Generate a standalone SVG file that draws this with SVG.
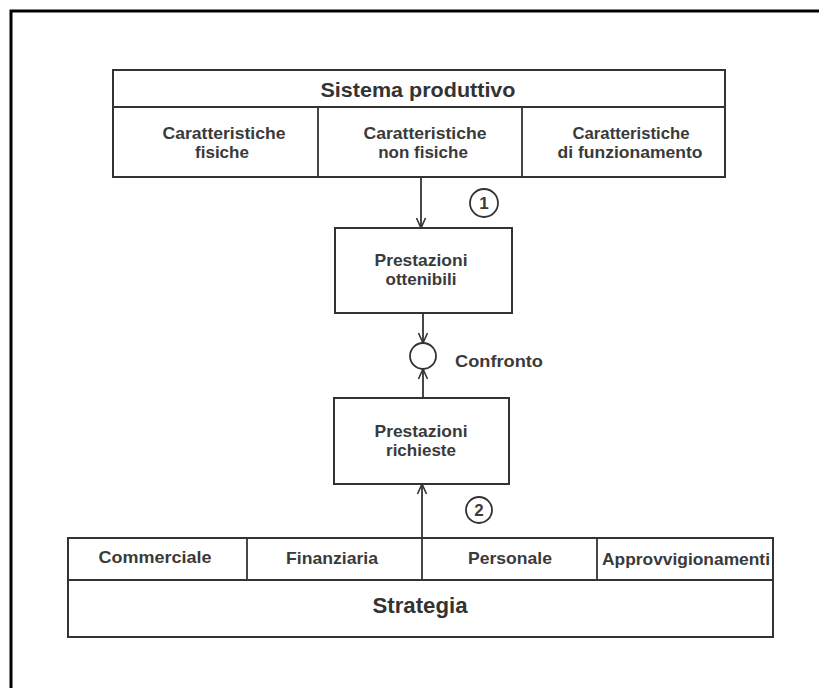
<svg xmlns="http://www.w3.org/2000/svg" width="819" height="688" viewBox="0 0 819 688">
  <defs>
    <marker id="arrow" viewBox="0 0 12 12" refX="11" refY="6" markerWidth="12" markerHeight="12" markerUnits="userSpaceOnUse" orient="auto">
      <path d="M1,1.5 L11,6 L1,10.5" fill="none" stroke="#333" stroke-width="1.6"/>
    </marker>
  </defs>
  <style>
    .box { fill: #fff; stroke: #333; stroke-width: 2; }
    .div { stroke: #333; stroke-width: 1.8; fill: none; }
    .conn { stroke: #333; stroke-width: 1.8; fill: none; marker-end: url(#arrow); }
    .txt { font-family: "Liberation Sans", Arial, sans-serif; font-weight: bold; fill: #3a3a3a; text-anchor: middle; }
    .sm { font-size: 17px; }
    .lg { font-size: 20.5px; fill: #333; }
    .xl { font-size: 22px; fill: #333; }
    .ring { fill: #fff; stroke: #333; stroke-width: 1.8; }
  </style>
  <rect width="819" height="688" fill="#fff"/>
  <!-- page frame -->
  <path d="M11,690 L11,11 L822,11" fill="none" stroke="#000" stroke-width="3"/>

  <g id="sistema-produttivo">
    <rect class="box" x="113" y="70" width="612" height="107"/>
    <line class="div" x1="113" y1="107" x2="725" y2="107"/>
    <line class="div" x1="318" y1="107" x2="318" y2="177"/>
    <line class="div" x1="522" y1="107" x2="522" y2="177"/>
    <text class="txt lg" x="418" y="97" textLength="195" lengthAdjust="spacingAndGlyphs">Sistema produttivo</text>
    <text class="txt sm" x="224" y="139" textLength="123" lengthAdjust="spacingAndGlyphs">Caratteristiche</text>
    <text class="txt sm" x="222" y="158">fisiche</text>
    <text class="txt sm" x="425" y="139" textLength="123" lengthAdjust="spacingAndGlyphs">Caratteristiche</text>
    <text class="txt sm" x="423" y="158">non fisiche</text>
    <text class="txt sm" x="631" y="139" textLength="117" lengthAdjust="spacingAndGlyphs">Caratteristiche</text>
    <text class="txt sm" x="630" y="158" textLength="145" lengthAdjust="spacingAndGlyphs">di funzionamento</text>
  </g>

  <g id="label-1">
    <circle class="ring" cx="484" cy="203" r="14"/>
    <text class="txt sm" x="484" y="209">1</text>
  </g>

  <g id="prestazioni-ottenibili">
    <rect class="box" x="335" y="228" width="177" height="85"/>
    <text class="txt sm" x="421" y="266" textLength="93" lengthAdjust="spacingAndGlyphs">Prestazioni</text>
    <text class="txt sm" x="421" y="285">ottenibili</text>
  </g>

  <g id="confronto">
    <circle class="ring" cx="423" cy="356" r="13"/>
    <text class="txt sm" x="499" y="367" textLength="88" lengthAdjust="spacingAndGlyphs">Confronto</text>
  </g>

  <g id="prestazioni-richieste">
    <rect class="box" x="334" y="398" width="175" height="86"/>
    <text class="txt sm" x="421" y="437" textLength="93" lengthAdjust="spacingAndGlyphs">Prestazioni</text>
    <text class="txt sm" x="421" y="456">richieste</text>
  </g>

  <g id="label-2">
    <circle class="ring" cx="479" cy="510" r="13"/>
    <text class="txt sm" x="479" y="516">2</text>
  </g>

  <g id="strategia">
    <rect class="box" x="68" y="538" width="705" height="99"/>
    <line class="div" x1="68" y1="580" x2="773" y2="580"/>
    <line class="div" x1="247" y1="538" x2="247" y2="580"/>
    <line class="div" x1="422" y1="538" x2="422" y2="580"/>
    <line class="div" x1="597" y1="538" x2="597" y2="580"/>
    <text class="txt sm" x="155" y="563" textLength="113" lengthAdjust="spacingAndGlyphs">Commerciale</text>
    <text class="txt sm" x="332" y="564" textLength="92" lengthAdjust="spacingAndGlyphs">Finanziaria</text>
    <text class="txt sm" x="510" y="564" textLength="84" lengthAdjust="spacingAndGlyphs">Personale</text>
    <text class="txt sm" x="686" y="565" textLength="168" lengthAdjust="spacingAndGlyphs">Approvvigionamenti</text>
    <text class="txt xl" x="420" y="613" textLength="95" lengthAdjust="spacingAndGlyphs">Strategia</text>
  </g>

  <g id="connectors">
    <line class="conn" x1="421" y1="177" x2="421" y2="228"/>
    <line class="conn" x1="423" y1="313" x2="423" y2="343"/>
    <line class="conn" x1="423" y1="398" x2="423" y2="369"/>
    <line class="conn" x1="422" y1="538" x2="422" y2="484"/>
  </g>
</svg>
